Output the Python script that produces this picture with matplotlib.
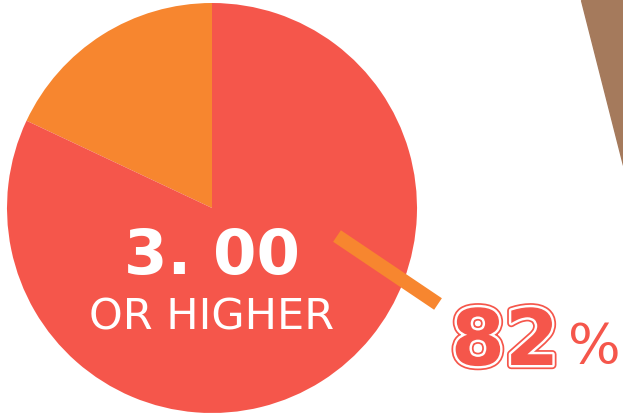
import matplotlib
matplotlib.use("Agg")
import matplotlib.pyplot as plt
import matplotlib.patheffects as pe
from matplotlib.patches import Polygon

# data
labels = ["below 3.00", "3.00 or higher"]
shares = [18, 82]
colors = ["#f7862f", "#f5564b"]
big_label = "3. 00"
sub_label = "OR HIGHER"
pct_label = "82"

W, H = 623, 417
fig = plt.figure(figsize=(W/100, H/100), dpi=100)
ax = fig.add_axes([0, 0, 1, 1])

# photo background: brown edge beyond the paper at top right
ax.add_patch(Polygon([(581, H), (W, H), (W, H-165)], closed=True,
                     color="#a57a5c", zorder=0))

cx, cy, r = 212, H-208, 205
ax.pie(shares, colors=colors, startangle=90, counterclock=True,
       center=(cx, cy), radius=r, frame=True,
       wedgeprops=dict(linewidth=0))
ax.set_xlim(0, W)
ax.set_ylim(0, H)
ax.set_aspect("auto")
ax.axis("off")

# leader line
ax.plot([337, 438], [H-236, H-304], color="#f7862f", lw=10,
        solid_capstyle="butt", zorder=5)

ax.text(cx, H-257, big_label, color="white", fontsize=45, fontweight="bold",
        ha="center", va="center", family="DejaVu Sans")
ax.text(cx, H-317, sub_label, color="white", fontsize=31,
        ha="center", va="center", family="DejaVu Sans")

ax.text(505, H-343, pct_label, color="#f5564b", fontsize=56, fontweight="bold",
        ha="center", va="center", family="DejaVu Sans",
        path_effects=[pe.Stroke(linewidth=6, foreground="#f5564b"),
                      pe.Stroke(linewidth=3.5, foreground="white"),
                      pe.Normal()])
ax.text(594, H-348, "%", color="#f5564b", fontsize=40,
        ha="center", va="center", family="DejaVu Sans")

fig.savefig("out.png", dpi=100)
